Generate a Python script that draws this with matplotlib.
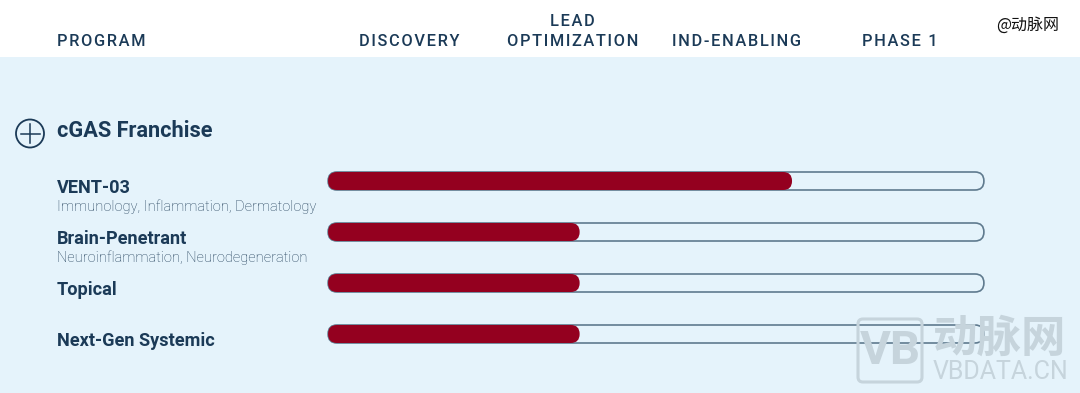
import matplotlib
matplotlib.use("Agg")
import matplotlib.pyplot as plt
from matplotlib.patches import Circle, FancyBboxPatch, Rectangle

stages = ["DISCOVERY", "LEAD\nOPTIMIZATION", "IND-ENABLING", "PHASE 1"]
programs = ["VENT-03", "Brain-Penetrant", "Topical", "Next-Gen Systemic"]
indications = ["Immunology, Inflammation, Dermatology", "Neuroinflammation, Neurodegeneration", "", ""]
progress = [2.83, 1.535, 1.535, 1.535]  # in stages, 4 = end of phase 1

NAVY = "#1b3a57"
RED = "#94001f"
BG = "#e5f3fb"
WM = "#c6d4dc"
TRACK_X0, TRACK_W = 328, 656
TRACK_Y = [181, 232, 283, 334]
TRACK_H = 18

plt.rcParams["font.family"] = ["Roboto", "DejaVu Sans"]


def spaced(s):
    # header has letter spacing
    return "\u200a".join(s)


fig = plt.figure(figsize=(10.8, 3.93), dpi=100)
ax = fig.add_axes([0, 0, 1, 1])
ax.set_xlim(0, 1080)
ax.set_ylim(393, 0)
ax.axis("off")

ax.add_patch(Rectangle((0, 57), 1080, 336, color=BG, lw=0))

# header row
ax.text(57, 42, spaced("PROGRAM"), color=NAVY, fontsize=11.8, fontweight="medium", va="center")
stage_x = [409, 572.5, 736, 900]
stage_y = [42, 31.5, 42, 42]
for name, sx, sy in zip(stages, stage_x, stage_y):
    ax.text(sx, sy, "\n".join(spaced(p) for p in name.split("\n")), color=NAVY, fontsize=11.8,
            fontweight="medium", ha="center", va="center", linespacing=1.45)

ax.text(1028, 25, "@动脉网", color="#111111", fontsize=11.5, ha="center", va="center",
        family=["Noto Sans CJK SC", "DejaVu Sans"])

# franchise title
ax.add_patch(Circle((30, 133.5), 14, fc="none", ec=NAVY, lw=1.3))
ax.plot([20.5, 39.5], [133.5, 133.5], color=NAVY, lw=1.1)
ax.plot([30, 30], [124, 143], color=NAVY, lw=1.1)
ax.text(57, 131, "cGAS Franchise", color=NAVY, fontsize=15.7, fontweight="bold", va="center")

# program rows
name_y = [188, 239, 290, 341.5]
sub_y = [207, 258]
for i, (prog, ind, val) in enumerate(zip(programs, indications, progress)):
    ax.text(57, name_y[i], prog, color=NAVY, fontsize=13.1, fontweight="bold", va="center")
    if ind:
        ax.text(57, sub_y[i], ind, color="#1f3d58", fontsize=10.55, fontweight="light", va="center")
    y = TRACK_Y[i] - TRACK_H / 2
    ax.add_patch(FancyBboxPatch((TRACK_X0 + 9, y + 8.9), TRACK_W - 18, TRACK_H - 17.8,
                                boxstyle="round,pad=8.9,rounding_size=8.9", fc="none", ec="#5f7a8e", lw=1.2, zorder=2))
    w = val / 4 * TRACK_W
    ax.add_patch(FancyBboxPatch((TRACK_X0 + 9, y + 8.9), w - 18, TRACK_H - 17.8,
                                boxstyle="round,pad=8.9,rounding_size=8.9", fc=RED, ec="none", zorder=3))

# watermark
ax.add_patch(FancyBboxPatch((863, 324), 54, 53, boxstyle="round,pad=5", fc="none", ec=WM, lw=2.2, zorder=4))
ax.text(890, 351, "VB", color=WM, fontsize=34, fontweight="bold", ha="center", va="center", zorder=4)
ax.text(1000, 339, "动脉网", color=WM, fontsize=32, fontweight="bold", ha="center", va="center",
        family=["Noto Sans CJK SC", "DejaVu Sans"], zorder=4)
ax.text(1001, 372, "VBDATA.CN", color=WM, fontsize=18, ha="center", va="center", zorder=4)

fig.savefig("out.png", dpi=100)
